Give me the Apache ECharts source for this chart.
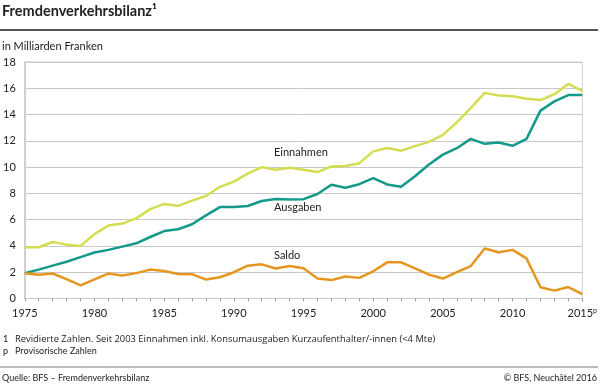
<!DOCTYPE html>
<html>
<head>
<meta charset="utf-8">
<script src="https://cdn.jsdelivr.net/npm/echarts@6/dist/echarts.min.js"></script>
<style>html,body{margin:0;padding:0;background:#fff}#c{width:600px;height:387px}</style>
</head>
<body>
<div id="c"></div>
<script>
const years = [1975,1976,1977,1978,1979,1980,1981,1982,1983,1984,1985,1986,1987,1988,1989,1990,1991,1992,1993,1994,1995,1996,1997,1998,1999,2000,2001,2002,2003,2004,2005,2006,2007,2008,2009,2010,2011,2012,2013,2014,2015];
const einnahmen = [3.9,3.9,4.3,4.1,4.0,4.9,5.55,5.7,6.1,6.8,7.2,7.05,7.45,7.8,8.5,8.9,9.5,10.0,9.8,9.95,9.8,9.62,10.05,10.08,10.3,11.2,11.45,11.25,11.6,11.92,12.45,13.4,14.5,15.65,15.45,15.4,15.2,15.1,15.55,16.33,15.8];
const ausgaben = [1.93,2.2,2.5,2.8,3.15,3.5,3.7,3.95,4.2,4.68,5.13,5.27,5.65,6.33,6.96,6.96,7.04,7.42,7.57,7.54,7.56,7.95,8.66,8.43,8.7,9.16,8.68,8.5,9.3,10.2,10.95,11.44,12.15,11.77,11.87,11.62,12.15,14.3,15.0,15.48,15.48];
const saldo = [1.93,1.8,1.9,1.48,1.0,1.45,1.9,1.75,1.93,2.2,2.1,1.87,1.85,1.44,1.62,2.0,2.5,2.6,2.28,2.48,2.3,1.52,1.4,1.68,1.57,2.07,2.75,2.75,2.3,1.82,1.52,2.0,2.47,3.8,3.52,3.7,3.05,0.85,0.6,0.87,0.33];
const yTicks = [0,2,4,6,8,10,12,14,16,18];
const xTicks = [1975,1980,1985,1990,1995,2000,2005,2010,2015];

const FONT = 'Lato';
const NOTE_FONT = '"Open Sans"';
const pair = (arr) => years.map((y,i)=>[y,arr[i]]);
const chart = echarts.init(document.getElementById('c'));
chart.setOption({
  animation:false,
  textStyle:{fontFamily:FONT},
  grid:{left:23.5,right:16,top:62,bottom:88.5,show:true,borderColor:'#cfcfcf',borderWidth:1},
  xAxis:{
    type:'value',min:xTicks[0],max:xTicks[xTicks.length-1],interval:5,
    axisLine:{show:true,lineStyle:{color:'#c8c8c8',width:1}},
    axisTick:{show:true,length:3,lineStyle:{color:'#999'}},
    minorTick:{show:true,splitNumber:5,length:3,lineStyle:{color:'#999'}},
    splitLine:{show:false},
    axisLabel:{color:'#222',fontSize:11,fontFamily:FONT,margin:9,
      formatter:(v)=> v===2015 ? '2015{p|p}' : String(v),
      rich:{p:{fontSize:7,fontFamily:FONT,color:'#222',padding:[0,0,5,0]}}}
  },
  yAxis:{
    type:'value',min:yTicks[0],max:yTicks[yTicks.length-1],interval:2,
    axisLine:{show:true,lineStyle:{color:'#d0d0d0',width:2}},
    axisTick:{show:false},
    splitLine:{lineStyle:{color:'#c8c8c8',width:1}},
    axisLabel:{color:'#222',fontSize:11,fontFamily:FONT,margin:9}
  },
  series:[
    {name:'Einnahmen',type:'line',data:pair(einnahmen),symbol:'none',lineStyle:{color:'#d4dd4f',width:2.5},z:3},
    {name:'Ausgaben',type:'line',data:pair(ausgaben),symbol:'none',lineStyle:{color:'#14998a',width:2.5},z:4},
    {name:'Saldo',type:'line',data:pair(saldo),symbol:'none',lineStyle:{color:'#e5961f',width:2.5},z:5}
  ],
  graphic:[
    {type:'text',left:2,top:4,style:{text:'Fremdenverkehrsbilanz¹',font:'bold 14.5px '+FONT,fill:'#222'}},
    {type:'line',shape:{x1:0,y1:30,x2:598,y2:30},style:{stroke:'#555',lineWidth:2}},
    {type:'text',left:2,top:41,style:{text:'in Milliarden Franken',font:'11px '+FONT,fill:'#222'}},
    {type:'text',left:274,top:147,style:{text:'Einnahmen',font:'11px '+FONT,fill:'#222'}},
    {type:'text',left:274,top:202,style:{text:'Ausgaben',font:'11px '+FONT,fill:'#222'}},
    {type:'text',left:274,top:250,style:{text:'Saldo',font:'11px '+FONT,fill:'#222'}},
    {type:'text',left:3,top:335,style:{text:'1',font:'9px '+FONT,fill:'#222'}},
    {type:'text',left:15,top:335,style:{text:'Revidierte Zahlen. Seit 2003 Einnahmen inkl. Konsumausgaben Kurzaufenthalter/-innen (<4 Mte)',font:'9.4px '+NOTE_FONT,fill:'#222'}},
    {type:'text',left:3,top:347,style:{text:'p',font:'9px '+FONT,fill:'#222'}},
    {type:'text',left:15,top:347,style:{text:'Provisorische Zahlen',font:'9px '+FONT,fill:'#222'}},
    {type:'line',shape:{x1:0,y1:367,x2:598,y2:367},style:{stroke:'#bbb',lineWidth:2}},
    {type:'text',left:2,top:374,style:{text:'Quelle: BFS – Fremdenverkehrsbilanz',font:'9px '+FONT,fill:'#222'}},
    {type:'text',right:3,top:374,style:{text:'© BFS, Neuchâtel 2016',font:'9px '+FONT,fill:'#222'}}
  ]
});
</script>
</body>
</html>
